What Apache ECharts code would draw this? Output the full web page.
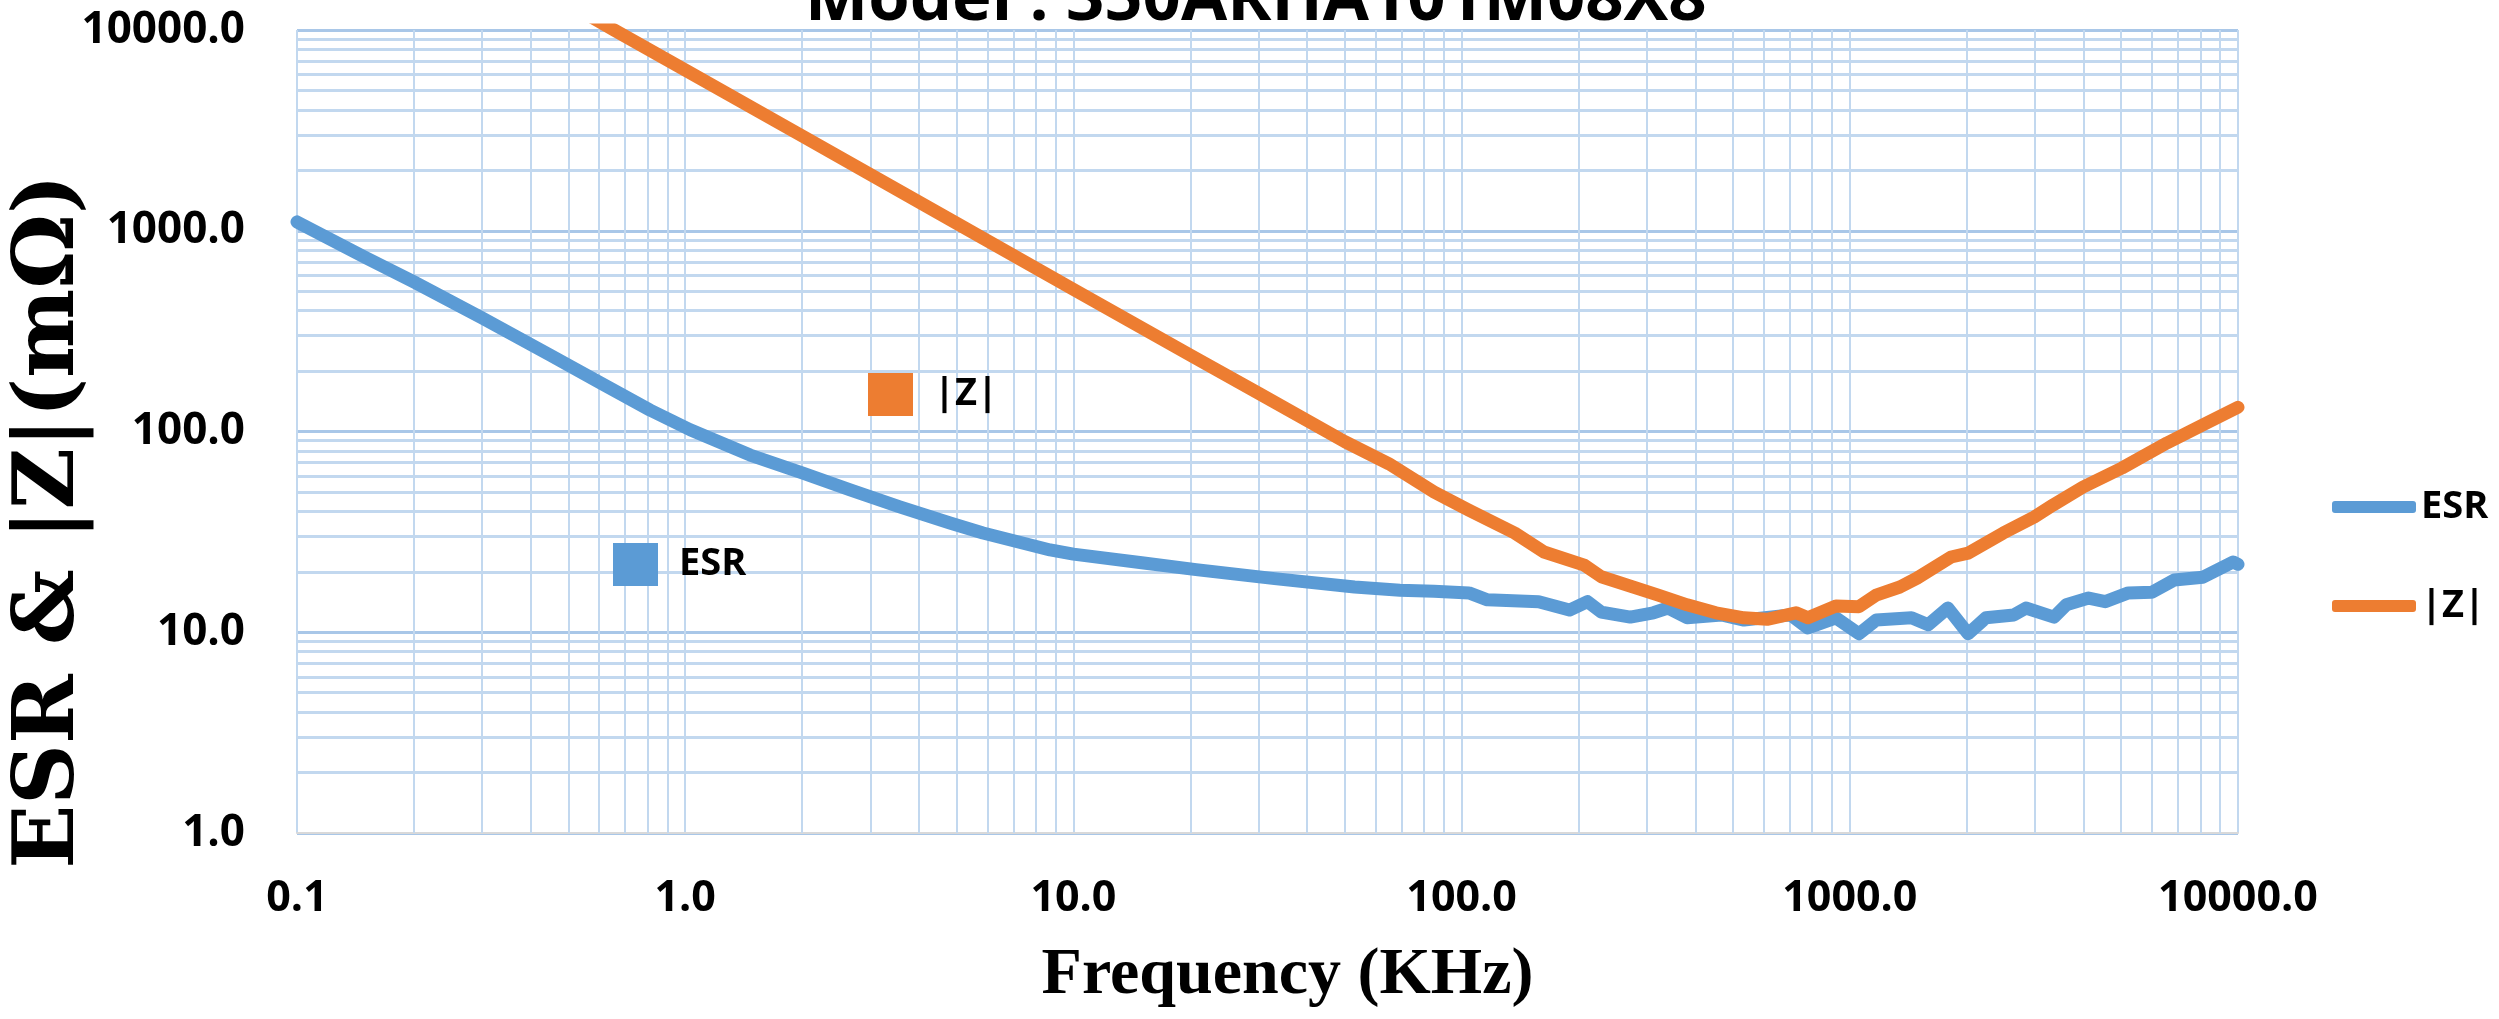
<!DOCTYPE html>
<html>
<head>
<meta charset="utf-8">
<script src="https://cdn.jsdelivr.net/npm/echarts@6/dist/echarts.min.js"></script>
<style>
html,body{margin:0;padding:0;background:#fff;}
#chart{width:2499px;height:1019px;}
</style>
</head>
<body>
<div id="chart"></div>
<script>
// ---- data ----
const chartTitle = 'Model : 350ARHA101M08X8';
const xName = 'Frequency (KHz)';
const yName = 'ESR & |Z|(m\u03A9)';
const seriesNames = ['ESR', '|Z|'];

// frequency (kHz) and ESR (mOhm)
const freqEsr = [0.1, 0.15, 0.2, 0.3, 0.449, 0.604, 0.811, 1.03, 1.47, 2.01,
  2.66, 3.57, 4.81, 5.85, 8.71, 10, 15, 20.7, 33, 53,
  69.4, 84.9, 104.5, 116.5, 158, 189.6, 211, 229, 272, 312,
  340, 381, 467, 534, 703, 780, 921, 1056, 1169, 1442,
  1592, 1789, 2018, 2241, 2647, 2842, 3357, 3610, 4123, 4552,
  5218, 5994, 6851, 8115, 9709, 10000];
const esr = [1107, 735, 556, 368, 240, 175, 128, 102, 76.3, 62.1,
  51.2, 42.1, 35.0, 31.2, 25.7, 24.5, 22.2, 20.5, 18.5, 16.8,
  16.2, 16.0, 15.7, 14.5, 14.2, 12.9, 14.2, 12.6, 11.9, 12.5,
  13.2, 11.8, 12.2, 11.5, 12.2, 10.5, 11.8, 9.83, 11.5, 11.8,
  10.9, 13.2, 9.83, 11.8, 12.2, 13.2, 11.9, 13.7, 14.8, 14.2,
  15.7, 15.8, 18.2, 18.8, 22.4, 21.8];

// frequency (kHz) and |Z| (mOhm)
const freqZ = [0.5, 0.656, 1, 2, 5, 10, 20, 30, 50, 65, 84.9,
  104.5, 137, 163, 207, 229, 321, 381, 452, 534, 612,
  727, 780, 921, 1056, 1169, 1346, 1490, 1824, 2018, 2484,
  2987, 3337, 3990, 5025, 6563, 8275, 10000];
const zmag = [13500, 10000, 6320, 2970, 1090, 510, 240, 155, 89, 69, 50,
  40.5, 31.2, 25.1, 21.6, 18.9, 15.3, 13.7, 12.5, 11.8, 11.6,
  12.5, 11.8, 13.5, 13.4, 15.3, 16.8, 18.6, 23.7, 24.8, 31.2,
  37.5, 43.0, 52.9, 65.8, 87.7, 110, 132];

// axis ranges / gridlines
const xRange = [0.1, 10000];
const yRange = [1, 10000];
const minorX = [0.2,0.3,0.4,0.5,0.6,0.7,0.8,0.9, 2,3,4,5,6,7,8,9,
  20,30,40,50,60,70,80,90, 200,300,400,500,600,700,800,900,
  2000,3000,4000,5000,6000,7000,8000,9000];
const minorY = [2,3,4,5,6,7,8,9, 20,30,40,50,60,70,80,90,
  200,300,400,500,600,700,800,900, 2000,3000,4000,5000,6000,7000,8000,9000];

// ---- chart ----
const BLUE = '#5B9BD5';
const ORANGE = '#ED7D31';
const labelFont = {fontFamily: 'Open Sans', fontWeight: 'bold', color: '#000'};

const chart = echarts.init(document.getElementById('chart'), null, {renderer: 'canvas'});

const gridLines = [];
minorX.forEach(v => gridLines.push({xAxis: v, lineStyle: {color: '#c2d8ef', width: 2}}));
minorY.forEach(v => gridLines.push({yAxis: v, lineStyle: {color: '#c2d8ef', width: 3}}));

chart.setOption({
  backgroundColor: '#ffffff',
  animation: false,
  title: {
    text: chartTitle,
    left: 800,
    top: -38,
    textStyle: {fontFamily: 'Open Sans', fontWeight: 'bold', fontSize: 67, color: '#000'}
  },
  grid: {left: 297, right: 261, top: 30, bottom: 186, containLabel: false, outerBoundsMode: 'none'},
  legend: [
    {
      data: seriesNames, orient: 'vertical', left: 2332, top: 484, padding: 0,
      itemWidth: 84, itemHeight: 12, itemGap: 53, icon: 'roundRect', selectedMode: false,
      textStyle: Object.assign({fontSize: 38, lineHeight: 46}, labelFont)
    },
    {
      data: ['|Z|'], left: 868, top: 373, padding: 0, icon: 'rect',
      itemWidth: 45, itemHeight: 43, selectedMode: false,
      textStyle: Object.assign({fontSize: 38, lineHeight: 43, padding: [0, 0, 0, 16]}, labelFont)
    },
    {
      data: ['ESR'], left: 613, top: 543, padding: 0, icon: 'rect',
      itemWidth: 45, itemHeight: 43, selectedMode: false,
      textStyle: Object.assign({fontSize: 38, lineHeight: 43, padding: [0, 0, 0, 16]}, labelFont)
    }
  ],
  xAxis: {
    type: 'log', logBase: 10, min: xRange[0], max: xRange[1],
    name: xName, nameLocation: 'middle', nameGap: 110,
    nameTextStyle: {fontFamily: 'Liberation Serif', fontWeight: 'bold', fontSize: 66, color: '#000', padding: [0, 0, 0, 40]},
    axisLine: {show: true, lineStyle: {color: '#d9d9d9', width: 2}},
    axisTick: {show: false},
    axisLabel: Object.assign({fontSize: 43, margin: 44, formatter: v => Number(v).toFixed(1)}, labelFont),
    splitLine: {show: true, lineStyle: {color: '#c2d8ef', width: 2}}
  },
  yAxis: {
    type: 'log', logBase: 10, min: yRange[0], max: yRange[1],
    name: yName, nameLocation: 'middle', nameGap: 204, nameRotate: 90, nameMoveOverlap: false,
    nameTextStyle: {fontFamily: 'DejaVu Serif', fontWeight: 'bold', fontSize: 84, color: '#000', padding: [0, 180, 0, 0]},
    axisLine: {show: false},
    axisTick: {show: false},
    axisLabel: Object.assign({fontSize: 44, margin: 52, formatter: v => Number(v).toFixed(1)}, labelFont),
    splitLine: {show: true, lineStyle: {color: '#a9c7e8', width: 3}}
  },
  series: [
    {
      name: seriesNames[0], type: 'line', z: 3,
      data: freqEsr.map((f, i) => [f, esr[i]]),
      showSymbol: false, symbol: 'none', color: BLUE,
      lineStyle: {color: BLUE, width: 13, cap: 'round', join: 'round'},
      markLine: {
        silent: true, z: 1, symbol: ['none', 'none'], animation: false,
        label: {show: false},
        lineStyle: {type: 'solid'},
        emphasis: {disabled: true},
        data: gridLines
      }
    },
    {
      name: seriesNames[1], type: 'line', z: 3,
      data: freqZ.map((f, i) => [f, zmag[i]]),
      showSymbol: false, symbol: 'none', color: ORANGE, clip: true,
      lineStyle: {color: ORANGE, width: 13, cap: 'round', join: 'round'}
    }
  ]
});
</script>
</body>
</html>
